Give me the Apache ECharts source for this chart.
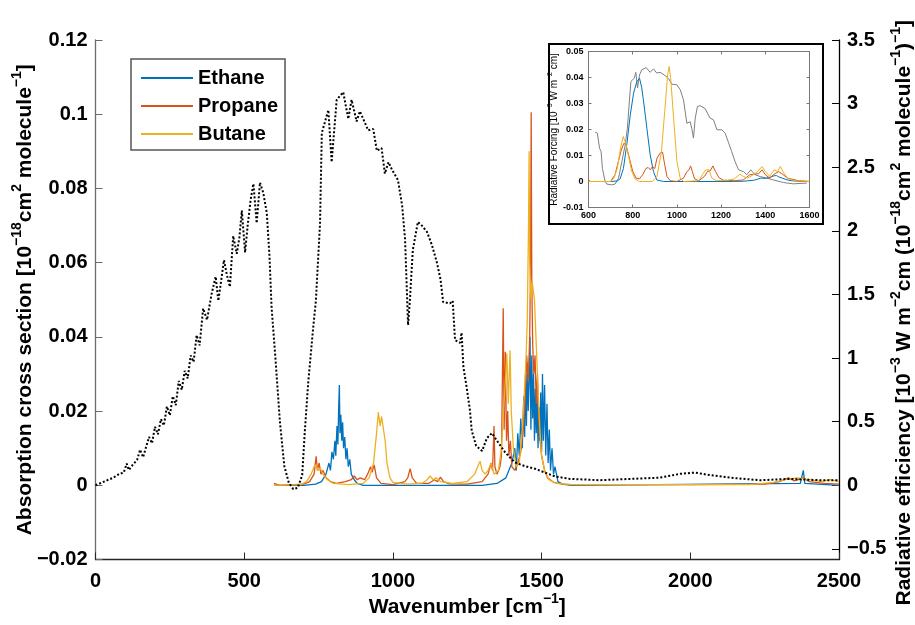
<!DOCTYPE html>
<html><head><meta charset="utf-8">
<script src="https://cdn.jsdelivr.net/npm/echarts@6/dist/echarts.min.js"></script>
<style>html,body{margin:0;padding:0;background:#fff}#c{width:915px;height:625px}</style>
</head><body><div id="c"></div>
<script>
// ---------- main chart: radiative efficiency (right axis, dotted black) ----------
const reWn  = [0,20,40,60,80,95,105,112,125,140,150,160,170,180,190,200,210,220,230,240,250,260,270,280,290,300,310,320,330,340,350,362,375,390,404,413,422,432,442,452,463,475,484,492,503,512,522,531,542,553,564,576,585,592,605,620,635,650,665,680,695,704,715,732,741,755,761,783,794,811,833,850,861,878,889,917,934,946,962,973,985,997,1017,1031,1041,1051,1057,1067,1084,1098,1115,1131,1148,1160,1169,1192,1201,1209,1226,1231,1237,1248,1259,1265,1280,1300,1316,1333,1350,1377,1410,1444,1478,1511,1545,1596,1696,1797,1898,1966,2016,2066,2133,2234,2335,2436,2500];
const reVal = [0,0.02,0.04,0.06,0.09,0.10,0.17,0.12,0.16,0.20,0.28,0.22,0.30,0.38,0.33,0.46,0.40,0.52,0.47,0.62,0.55,0.70,0.63,0.82,0.75,0.90,0.84,1.02,0.97,1.18,1.10,1.39,1.30,1.50,1.64,1.45,1.60,1.77,1.65,1.56,1.96,1.82,1.95,2.16,1.83,2.05,2.25,2.37,2.06,2.38,2.30,2.14,1.80,1.40,1.00,0.50,0.15,0.02,-0.03,-0.02,0.08,0.43,0.80,1.24,1.45,2.06,2.77,2.95,2.54,3.03,3.09,2.88,3.03,2.86,2.94,2.79,2.80,2.63,2.65,2.45,2.54,2.48,2.40,2.20,1.93,1.26,1.45,1.85,2.07,2.04,1.99,1.89,1.75,1.62,1.44,1.43,1.45,1.14,1.12,1.20,0.93,0.77,0.59,0.43,0.31,0.27,0.37,0.41,0.35,0.26,0.18,0.15,0.13,0.10,0.07,0.05,0.04,0.05,0.06,0.09,0.10,0.08,0.06,0.04,0.05,0.04,0.04];

// ---------- main chart: absorption cross sections (left axis) ----------
const ethaneWn  = [600,700,740,760,775,785,790,795,800,805,808,812,815,818,820,822,825,828,831,834,838,842,846,850,855,860,870,880,900,1300,1350,1380,1400,1410,1415,1420,1425,1430,1435,1440,1443,1446,1449,1452,1455,1458,1461,1464,1467,1470,1473,1476,1479,1482,1485,1488,1491,1494,1497,1500,1503,1506,1510,1514,1518,1522,1526,1530,1535,1540,1545,1555,1570,1600,2370,2380,2385,2500];
const ethaneVal = [0,0,0.0003,0.001,0.003,0.006,0.004,0.009,0.007,0.012,0.008,0.016,0.011,0.022,0.027,0.014,0.019,0.012,0.017,0.010,0.013,0.007,0.010,0.005,0.007,0.003,0.0015,0.0005,0,0,0.0005,0.002,0.006,0.010,0.004,0.014,0.008,0.018,0.010,0.024,0.013,0.030,0.016,0.033,0.020,0.028,0.040,0.015,0.035,0.018,0.030,0.012,0.026,0.014,0.024,0.010,0.021,0.012,0.025,0.009,0.030,0.012,0.027,0.008,0.022,0.006,0.015,0.004,0.010,0.003,0.005,0.001,0.0003,0,0.0005,0.004,0.0005,0];

const propaneWn  = [600,620,700,720,735,742,746,752,758,765,775,790,810,840,860,870,880,890,905,915,925,930,937,945,960,1000,1040,1050,1058,1065,1080,1120,1140,1150,1160,1170,1190,1250,1300,1320,1330,1335,1340,1343,1350,1360,1365,1371,1374,1378,1382,1386,1390,1395,1400,1410,1420,1430,1438,1444,1450,1455,1460,1463,1465,1467,1470,1474,1478,1482,1486,1490,1495,1500,1510,1520,1540,1570,1600,2000,2250,2300,2330,2350,2380,2400,2450,2500];
const propaneVal = [0.0005,0,0.0003,0.001,0.003,0.0078,0.004,0.006,0.003,0.004,0.002,0.001,0.0005,0.001,0.0015,0.0025,0.0015,0.002,0.0015,0.003,0.005,0.0035,0.0055,0.002,0.0005,0.0002,0.001,0.002,0.0045,0.002,0.0005,0.0005,0.0015,0.001,0.0022,0.001,0.0004,0.0003,0.001,0.003,0.006,0.004,0.016,0.005,0.003,0.005,0.008,0.0477,0.015,0.036,0.012,0.020,0.008,0.012,0.005,0.004,0.006,0.009,0.015,0.022,0.035,0.028,0.040,0.060,0.1005,0.055,0.038,0.030,0.035,0.022,0.030,0.018,0.012,0.008,0.004,0.002,0.0008,0.0003,0.0002,0.0002,0.0003,0.001,0.002,0.0012,0.002,0.001,0.0005,0.0003];

const butaneWn  = [600,690,710,725,735,742,748,756,765,780,800,850,900,920,935,945,951,957,962,968,974,980,990,1000,1050,1100,1115,1125,1135,1145,1160,1200,1250,1275,1285,1293,1300,1310,1320,1330,1340,1355,1365,1372,1378,1383,1388,1394,1398,1405,1415,1425,1435,1442,1448,1452,1456,1458,1460,1464,1468,1472,1476,1480,1485,1490,1495,1500,1510,1525,1550,1600,2200,2280,2320,2360,2400,2440,2470,2500];
const butaneVal = [0,0.0002,0.001,0.003,0.005,0.0055,0.004,0.0045,0.003,0.0015,0.0005,0.0002,0.0005,0.002,0.006,0.014,0.0197,0.016,0.0185,0.0184,0.012,0.006,0.002,0.0008,0.0003,0.0006,0.0015,0.0025,0.0015,0.002,0.001,0.0005,0.001,0.003,0.005,0.0065,0.004,0.003,0.004,0.006,0.003,0.004,0.010,0.020,0.028,0.0355,0.022,0.0364,0.020,0.010,0.005,0.006,0.015,0.025,0.035,0.045,0.070,0.090,0.060,0.050,0.055,0.055,0.050,0.042,0.032,0.022,0.014,0.008,0.004,0.0015,0.0005,0.0002,0.0002,0.0008,0.0015,0.002,0.0015,0.001,0.0015,0.001];

// ---------- inset: radiative forcing ----------
const insTotalWn  = [630,640,650,657,663,675,683,705,720,736,751,766,776,785,792,807,814,822,831,841,861,879,894,909,924,942,962,977,1000,1015,1030,1045,1060,1067,1075,1083,1093,1105,1128,1150,1166,1181,1203,1218,1233,1248,1263,1279,1301,1316,1334,1354,1377,1407,1437,1482,1527,1588];
const insTotalVal = [0.019,0.0186,0.0128,0.0115,0.005,0,-0.001,-0.0013,-0.001,0.0013,0.0077,0.014,0.0205,0.031,0.0385,0.0397,0.042,0.036,0.041,0.043,0.0438,0.042,0.0433,0.0417,0.042,0.041,0.0397,0.0374,0.0372,0.0353,0.0314,0.0224,0.023,0.0205,0.0167,0.0244,0.0288,0.0292,0.028,0.0244,0.0237,0.0199,0.0199,0.0186,0.0151,0.0115,0.0077,0.0045,0.0038,0.0026,0.0045,0.0026,0.0019,0.0013,0.0006,-0.0004,-0.0009,-0.0006];
const insEthaneWn  = [600,700,730,743,758,773,789,804,819,831,841,852,864,879,894,909,940,1000,1100,1200,1300,1350,1380,1400,1420,1440,1450,1460,1480,1500,1520,1550,1600];
const insEthaneVal = [0,0,0.0002,0.001,0.005,0.014,0.0256,0.034,0.0385,0.0397,0.036,0.029,0.0205,0.0103,0.0038,0.0006,0,0,0,0,0.0001,0.0005,0.0013,0.0012,0.0016,0.0022,0.0023,0.0018,0.0012,0.0006,0.0003,0.0001,0];
const insPropaneWn  = [600,610,700,720,735,748,760,770,785,800,815,830,845,860,870,880,890,900,910,925,935,945,955,970,1000,1030,1045,1055,1062,1070,1080,1100,1125,1140,1150,1163,1175,1190,1210,1260,1300,1330,1350,1370,1385,1400,1420,1440,1460,1475,1500,1550,1600];
const insPropaneVal = [0.0005,0,0,0.0026,0.0077,0.012,0.0147,0.014,0.009,0.004,0.0013,0.001,0.0026,0.005,0.0054,0.0045,0.0058,0.005,0.009,0.011,0.0113,0.0064,0.0019,0.0003,0,0.0013,0.0038,0.0045,0.006,0.0038,0.001,0.0003,0.002,0.004,0.004,0.006,0.0038,0.0015,0.0005,0.0003,0.0006,0.0026,0.0028,0.003,0.0045,0.0026,0.0013,0.0028,0.0038,0.003,0.0013,0.0003,0];
const insButaneWn  = [600,700,715,730,745,757,768,780,795,810,830,890,910,930,945,958,965,972,985,1000,1015,1030,1100,1115,1130,1145,1158,1180,1230,1260,1285,1300,1320,1345,1365,1385,1400,1420,1440,1455,1468,1480,1500,1530,1600];
const insButaneVal = [0,0,0.0013,0.005,0.0128,0.0173,0.0147,0.0103,0.004,0.001,0,0,0.002,0.0115,0.027,0.041,0.0442,0.0397,0.0244,0.0077,0.0013,0,0.0003,0.0026,0.0045,0.0045,0.0013,0.0003,0.0005,0.001,0.0028,0.002,0.0013,0.0026,0.0038,0.0058,0.0038,0.002,0.0045,0.0038,0.0058,0.0038,0.0013,0.0003,0];

// ---------- tick labels ----------
const xTicks = [0,500,1000,1500,2000,2500];
const leftTicks = [-0.02,0,0.02,0.04,0.06,0.08,0.1,0.12];
const rightTicks = [-0.5,0,0.5,1,1.5,2,2.5,3,3.5];
const insXTicks = [600,800,1000,1200,1400,1600];
const insYTicks = [-0.01,0,0.01,0.02,0.03,0.04,0.05];

const zip = (a, b) => a.map((v, i) => [v, b[i]]);
const fmt = v => (Math.abs(v) < 1e-12 ? '0' : String(+v.toFixed(3)).replace('-', '\u2212'));

const C_ETH = '#0072BD', C_PRO = '#D95319', C_BUT = '#EDB120';
const FONT = '"Liberation Sans", Arial, Helvetica, sans-serif';

const bigRich = {
  n: {fontSize: 21, fontWeight: 'bold', fontFamily: FONT, color: '#000', lineHeight: 30},
  s: {fontSize: 14, fontWeight: 'bold', fontFamily: FONT, color: '#000', lineHeight: 14, verticalAlign: 'top'}
};
const smallRich = {
  n: {fontSize: 10, fontFamily: FONT, color: '#000', lineHeight: 15},
  s: {fontSize: 7, fontFamily: FONT, color: '#000', lineHeight: 7, verticalAlign: 'top'}
};

const chart = echarts.init(document.getElementById('c'), null, {renderer: 'canvas'});
chart.setOption({
  animation: false,
  backgroundColor: '#fff',
  grid: [
    {left: 95.5, right: 76, top: 40, bottom: 65.5, outerBoundsMode: 'none'},
    {left: 588.5, right: 105.5, top: 51.5, bottom: 417.5, outerBoundsMode: 'none'}
  ],
  graphic: [{
    type: 'rect', shape: {x: 549, y: 44, width: 274, height: 180},
    style: {fill: 'none', stroke: '#000', lineWidth: 2}, z: 100
  }],
  legend: {
    data: ['Ethane', 'Propane', 'Butane'],
    orient: 'vertical', left: 131, top: 59,
    padding: [9, 7, 6, 10], itemGap: 8, itemWidth: 52, itemHeight: 2,
    icon: 'rect',
    borderColor: '#555', borderWidth: 1.5, backgroundColor: '#fff',
    textStyle: {fontSize: 20, fontWeight: 'bold', fontFamily: FONT, color: '#000', lineHeight: 20},
    selectedMode: false
  },
  xAxis: [
    {type: 'value', gridIndex: 0, min: 0, max: 2500, interval: 500,
     name: '{n|Wavenumber [cm}{s|\u22121}{n|]}', nameLocation: 'middle', nameGap: 33,
     nameTextStyle: {rich: bigRich}, nameMoveOverlap: false,
     axisLine: {onZero: false, lineStyle: {color: '#262626', width: 1.3}},
     axisTick: {inside: true, length: 7, lineStyle: {color: '#262626'}},
     axisLabel: {margin: 12, fontSize: 20, fontWeight: 'bold', fontFamily: FONT, color: '#000', formatter: fmt},
     splitLine: {show: false}},
    {type: 'value', gridIndex: 1, min: 600, max: 1600, interval: 200,
     axisLine: {onZero: false, lineStyle: {color: '#777', width: 1}},
     axisTick: {inside: true, length: 3, lineStyle: {color: '#777'}},
     axisLabel: {margin: 4, fontSize: 9, fontWeight: 'bold', fontFamily: FONT, color: '#000', formatter: v => String(v)},
     splitLine: {show: false}},
    {type: 'value', gridIndex: 1, position: 'top', min: 600, max: 1600, interval: 200,
     axisLine: {onZero: false, lineStyle: {color: '#777', width: 1}},
     axisTick: {inside: true, length: 3, lineStyle: {color: '#777'}},
     axisLabel: {show: false}, splitLine: {show: false}}
  ],
  yAxis: [
    {type: 'value', gridIndex: 0, position: 'left', min: -0.02, max: 0.12, interval: 0.02,
     name: '{n|Absorption cross section [10}{s|\u221218}{n|cm}{s|2}{n| molecule}{s|\u22121}{n|]}',
     nameLocation: 'middle', nameGap: 55, nameRotate: 90, nameMoveOverlap: false,
     nameTextStyle: {rich: bigRich},
     axisLine: {show: true, onZero: false, lineStyle: {color: '#6b6b6b', width: 1.3}},
     axisTick: {show: true, inside: true, length: 7, lineStyle: {color: '#6b6b6b'}},
     axisLabel: {margin: 8, fontSize: 20, fontWeight: 'bold', fontFamily: FONT, color: '#000', formatter: fmt},
     splitLine: {show: false}},
    {type: 'value', gridIndex: 0, position: 'right', min: -0.5833333, max: 3.5,
     name: '{n|Radiative efficiency [10}{s|\u22123}{n| W m}{s|\u22122}{n|cm (10}{s|\u221218}{n|cm}{s|2}{n| molecule}{s|\u22121}{n|)}{s|\u22121}{n|]}',
     nameLocation: 'middle', nameGap: 50, nameRotate: 90, nameMoveOverlap: false,
     nameTextStyle: {rich: bigRich, padding: [0, 26, 0, 0]},
     axisLine: {show: true, onZero: false, lineStyle: {color: '#000', width: 1.3}},
     axisTick: {show: true, inside: true, length: 7, lineStyle: {color: '#000'}, customValues: rightTicks},
     axisLabel: {margin: 8, fontSize: 20, fontWeight: 'bold', fontFamily: FONT, color: '#000', formatter: fmt, customValues: rightTicks},
     splitLine: {show: false}},
    {type: 'value', gridIndex: 1, position: 'left', min: -0.01, max: 0.05, interval: 0.01,
     name: '{n|Radiative Forcing [10}{s|\u22123}{n| W m}{s|\u22122}{n| cm]}',
     nameLocation: 'middle', nameGap: 24, nameRotate: 90,
     nameTextStyle: {rich: smallRich},
     axisLine: {show: true, onZero: false, lineStyle: {color: '#777', width: 1}},
     axisTick: {show: true, inside: true, length: 3, lineStyle: {color: '#777'}},
     axisLabel: {margin: 5, fontSize: 9, fontWeight: 'bold', fontFamily: FONT, color: '#000',
                 formatter: v => (Math.abs(v) < 1e-12 ? '0' : String(+v.toFixed(2)))},
     splitLine: {show: false}},
    {type: 'value', gridIndex: 1, position: 'right', min: -0.01, max: 0.05, interval: 0.01,
     axisLine: {show: true, onZero: false, lineStyle: {color: '#777', width: 1}},
     axisTick: {show: true, inside: true, length: 3, lineStyle: {color: '#777'}},
     axisLabel: {show: false}, splitLine: {show: false}}
  ],
  series: [
    {name: 'Ethane', type: 'line', xAxisIndex: 0, yAxisIndex: 0, data: zip(ethaneWn, ethaneVal),
     symbol: 'none', lineStyle: {color: C_ETH, width: 1.3}, itemStyle: {color: C_ETH}, z: 3},
    {name: 'Propane', type: 'line', xAxisIndex: 0, yAxisIndex: 0, data: zip(propaneWn, propaneVal),
     symbol: 'none', lineStyle: {color: C_PRO, width: 1.3}, itemStyle: {color: C_PRO}, z: 4},
    {name: 'Butane', type: 'line', xAxisIndex: 0, yAxisIndex: 0, data: zip(butaneWn, butaneVal),
     symbol: 'none', lineStyle: {color: C_BUT, width: 1.3}, itemStyle: {color: C_BUT}, z: 5},
    {name: 'RE', type: 'line', xAxisIndex: 0, yAxisIndex: 1, data: zip(reWn, reVal),
     symbol: 'none', lineStyle: {color: '#000', width: 2, type: [2, 2]}, z: 6},
    {name: 'RF total', type: 'line', xAxisIndex: 1, yAxisIndex: 2, data: zip(insTotalWn, insTotalVal),
     symbol: 'none', lineStyle: {color: '#808080', width: 1}, z: 3},
    {name: 'Ethane', type: 'line', xAxisIndex: 1, yAxisIndex: 2, data: zip(insEthaneWn, insEthaneVal),
     symbol: 'none', lineStyle: {color: C_ETH, width: 1}, itemStyle: {color: C_ETH}, z: 4},
    {name: 'Propane', type: 'line', xAxisIndex: 1, yAxisIndex: 2, data: zip(insPropaneWn, insPropaneVal),
     symbol: 'none', lineStyle: {color: C_PRO, width: 1}, itemStyle: {color: C_PRO}, z: 4},
    {name: 'Butane', type: 'line', xAxisIndex: 1, yAxisIndex: 2, data: zip(insButaneWn, insButaneVal),
     symbol: 'none', lineStyle: {color: C_BUT, width: 1}, itemStyle: {color: C_BUT}, z: 4}
  ]
});
</script>
</body></html>
